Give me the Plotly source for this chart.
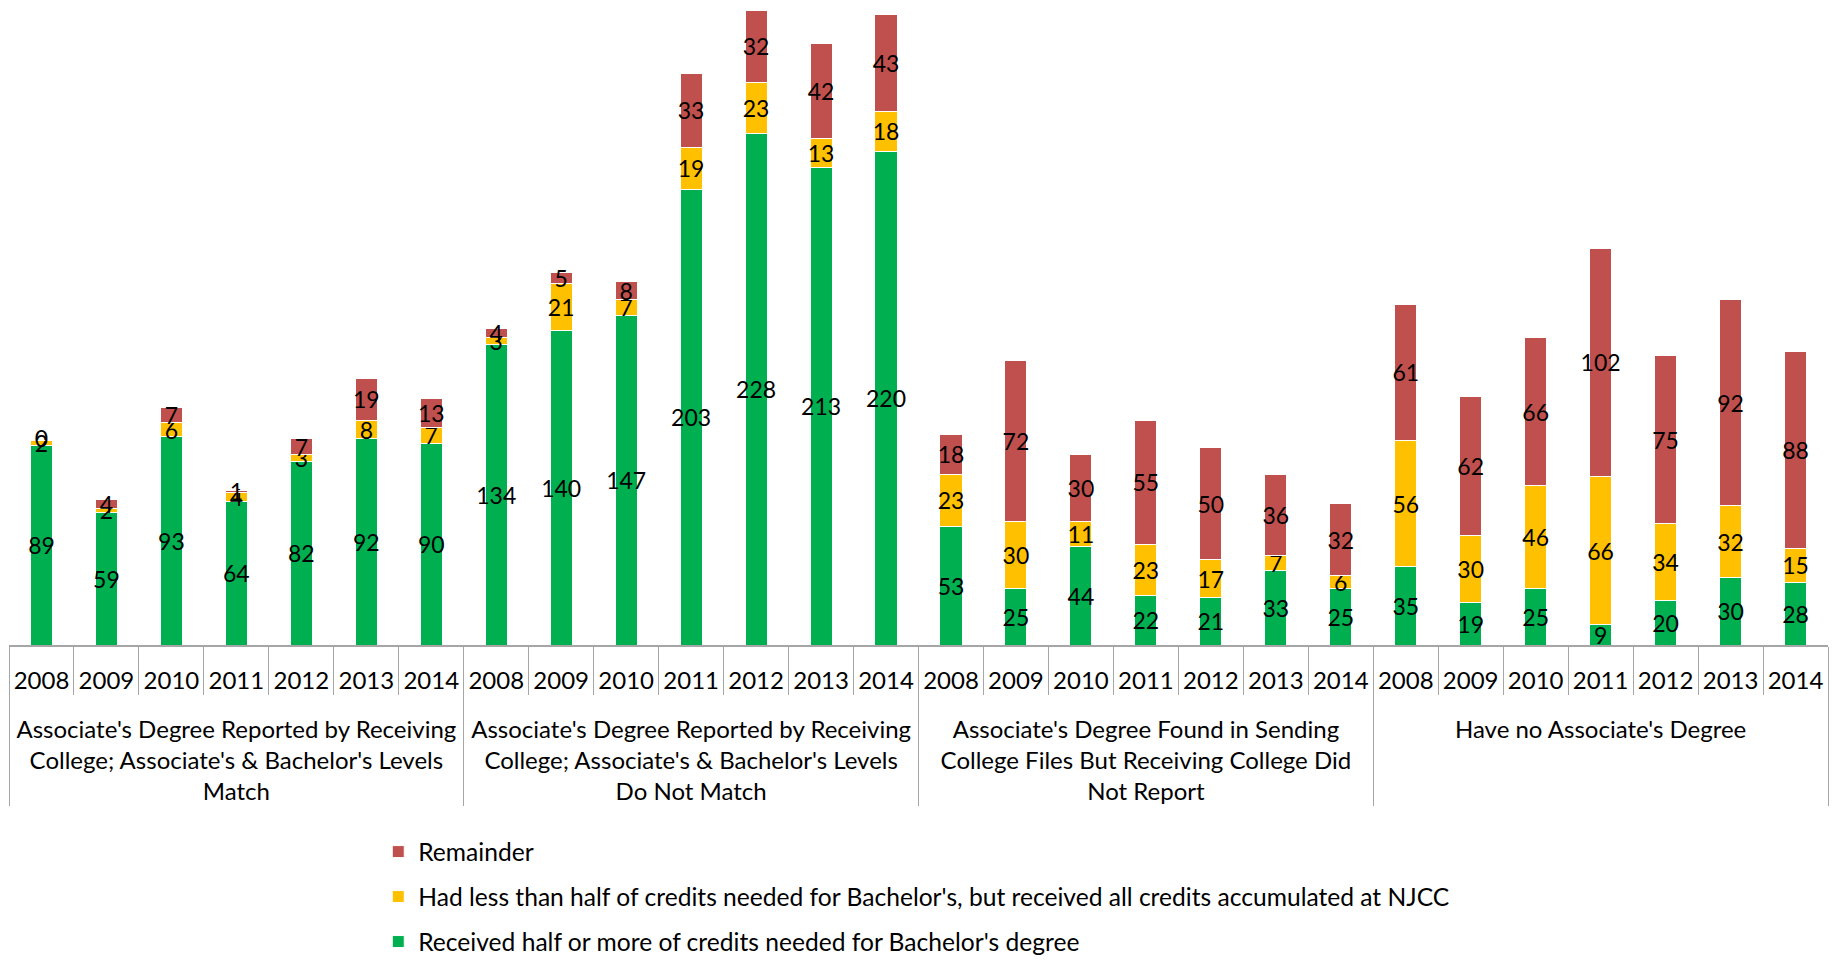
import plotly.graph_objects as go

years = ["2008", "2009", "2010", "2011", "2012", "2013", "2014"]
group_lines = [
    ["Associate's Degree Reported by Receiving", "College; Associate's & Bachelor's Levels", "Match"],
    ["Associate's Degree Reported by Receiving", "College; Associate's & Bachelor's Levels", "Do Not Match"],
    ["Associate's Degree Found in Sending", "College Files But Receiving College Did", "Not Report"],
    ["Have no Associate's Degree", " ", " "],
]

received_half = [89, 59, 93, 64, 82, 92, 90,
                 134, 140, 147, 203, 228, 213, 220,
                 53, 25, 44, 22, 21, 33, 25,
                 35, 19, 25, 9, 20, 30, 28]
less_than_half = [2, 2, 6, 4, 3, 8, 7,
                  3, 21, 7, 19, 23, 13, 18,
                  23, 30, 11, 23, 17, 7, 6,
                  56, 30, 46, 66, 34, 32, 15]
remainder = [0, 4, 7, 1, 7, 19, 13,
             4, 5, 8, 33, 32, 42, 43,
             18, 72, 30, 55, 50, 36, 32,
             61, 62, 66, 102, 75, 92, 88]

FONT = "Lato, sans-serif"
FS = 23       # bar labels
FS_TICK = 24  # axis labels
FS_LEG = 24.6

groups = ["<br>".join([" "] + lines) for lines in group_lines]

x_outer = [g for g in groups for _ in years]
x_inner = years * len(groups)

series = [
    ("Received half or more of credits needed for Bachelor's degree", received_half, "#00B050", 3),
    ("Had less than half of credits needed for Bachelor's, but received all credits accumulated at NJCC", less_than_half, "#FFC000", 2),
    ("Remainder", remainder, "#C0504D", 1),
]

fig = go.Figure()
for i, (name, vals, color, rank) in enumerate(series):
    fig.add_trace(go.Bar(
        x=[x_outer, x_inner],
        y=vals,
        name=name,
        legendgroup=str(i),
        legendrank=rank,
        marker=dict(color=color, line=dict(color="white", width=1)),
        text=[str(v) for v in vals],
        textposition="inside",
        insidetextanchor="middle",
        textangle=0,
        constraintext="none",
        textfont=dict(color="black", size=FS, family=FONT),
        cliponaxis=False,
    ))

# zero-height segments get no bar text, so label them at the top of their stack
totals = [a + b + c for a, b, c in zip(received_half, less_than_half, remainder)]
zero_idx = [k for k, v in enumerate(remainder) if v == 0]
fig.add_trace(go.Scatter(
    x=[[x_outer[k] for k in zero_idx], [x_inner[k] for k in zero_idx]],
    y=[totals[k] for k in zero_idx],
    text=[str(remainder[k]) for k in zero_idx],
    mode="text",
    textposition="middle center",
    textfont=dict(color="black", size=FS, family=FONT),
    showlegend=False,
    hoverinfo="skip",
    cliponaxis=False,
))

# page body has an 8px margin, so the figure is sized to fit inside it
fig.update_layout(
    barmode="stack",
    bargap=0.66,
    width=1821,
    height=948,
    margin=dict(l=1, r=1, t=0, b=311, autoexpand=False),
    plot_bgcolor="white",
    paper_bgcolor="white",
    font=dict(family=FONT, size=FS, color="black"),
    showlegend=True,
    legend=dict(
        traceorder="grouped",
        orientation="v",
        x=0.203, xanchor="left",
        y=-0.289, yanchor="top",
        tracegroupgap=10,
        font=dict(size=FS_LEG, family=FONT),
    ),
    xaxis=dict(
        type="multicategory",
        range=[-0.5, len(x_inner) - 0.5],
        automargin=False,
        tickangle=0,
        showline=True,
        linecolor="#A6A6A6",
        linewidth=2,
        ticks="outside",
        tickson="boundaries",
        ticklen=48,
        tickcolor="#A6A6A6",
        ticklabelstandoff=13,
        showdividers=True,
        dividercolor="#A6A6A6",
        dividerwidth=1,
        tickfont=dict(size=FS_TICK, family=FONT),
    ),
    yaxis=dict(visible=False, range=[0, 284]),
)

fig.write_html("out.html")
